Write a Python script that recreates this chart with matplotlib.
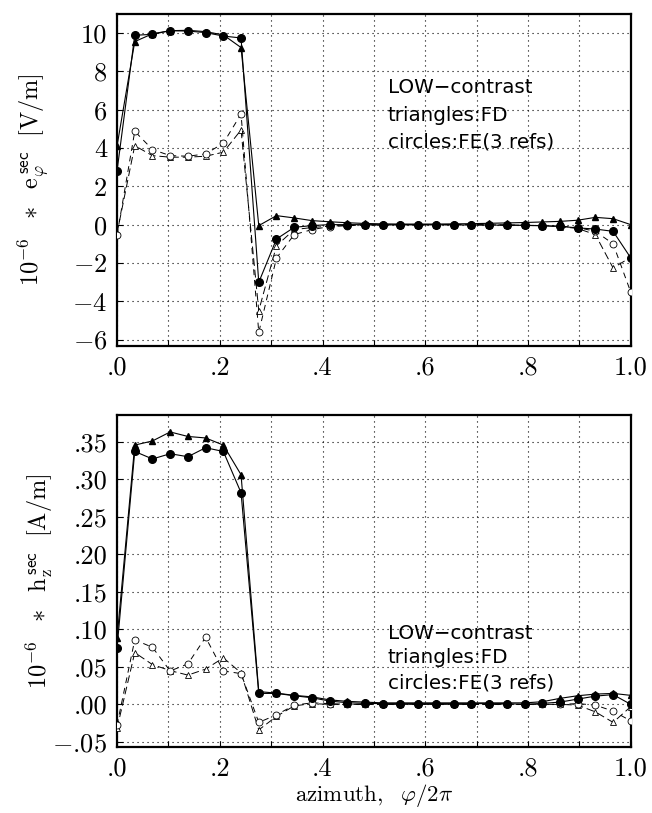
import numpy as np
import matplotlib
matplotlib.use("Agg")
import matplotlib.pyplot as plt
from matplotlib.ticker import FixedLocator, MultipleLocator

plt.rcParams["mathtext.fontset"] = "cm"

# azimuth samples, phi / 2 pi
azimuth = np.linspace(0.0, 1.0, 30)

# e_phi^sec [V/m] * 1e-6
e_tri_fd = [4.1, 9.55, 9.96, 10.12, 10.14, 10.07, 9.9, 9.24, -0.05, 0.47,
            0.35, 0.21, 0.15, 0.1, 0.06, 0.04, 0.03, 0.03, 0.03, 0.04,
            0.05, 0.07, 0.09, 0.11, 0.14, 0.17, 0.23, 0.38, 0.31, 0.0]
e_circ_fe = [2.8, 9.88, 9.93, 10.12, 10.1, 10.02, 9.84, 9.74, -3.01, -0.75,
             -0.14, -0.05, 0.0, 0.0, 0.0, -0.01, -0.01, -0.01, -0.01, -0.01,
             -0.02, -0.02, -0.03, -0.04, -0.06, -0.09, -0.17, -0.23, -0.35, -1.74]
e_tri_open = [-0.45, 4.12, 3.6, 3.52, 3.52, 3.57, 3.78, 4.94, -4.49, -1.1,
              -0.26, -0.15, -0.08, -0.04, -0.02, -0.01, 0.0, 0.0, 0.0, 0.0,
              0.0, -0.01, -0.02, -0.03, -0.05, -0.1, -0.2, -0.52, -2.26, -1.7]
e_circ_open = [-0.55, 4.87, 3.92, 3.6, 3.57, 3.69, 4.25, 5.77, -5.62, -1.74,
               -0.52, -0.26, -0.1, -0.05, -0.02, -0.01, 0.0, 0.0, 0.0, 0.0,
               0.0, -0.01, -0.02, -0.03, -0.05, -0.08, -0.15, -0.35, -1.0, -3.53]

# h_z^sec [A/m] * 1e-6
h_tri_fd = [0.088, 0.3455, 0.351, 0.363, 0.357, 0.355, 0.3455, 0.306, 0.017, 0.015,
            0.012, 0.010, 0.006, 0.004, 0.003, 0.002, 0.002, 0.002, 0.002, 0.002,
            0.002, 0.002, 0.002, 0.002, 0.0035, 0.008, 0.0115, 0.0137, 0.0146, 0.012]
h_circ_fe = [0.075, 0.337, 0.327, 0.334, 0.330, 0.342, 0.337, 0.282, 0.0146, 0.0146,
             0.0115, 0.0088, 0.0044, 0.0022, 0.0013, 0.001, 0.001, 0.001, 0.001, 0.001,
             0.001, 0.001, 0.001, 0.0, 0.0013, 0.003, 0.007, 0.011, 0.013, 0.0]
h_tri_open = [-0.032, 0.069, 0.053, 0.045, 0.039, 0.047, 0.062, 0.042, -0.034, -0.016,
              -0.002, 0.001, 0.0, 0.0, 0.0, 0.0, 0.0, 0.0, 0.0, 0.0,
              0.0, 0.0, 0.0, 0.0, 0.0, 0.0, -0.001, -0.01, -0.024, -0.003]
h_circ_open = [-0.0275, 0.086, 0.076, 0.0445, 0.054, 0.0894, 0.0445, 0.041, -0.024, -0.014,
               -0.001, 0.002, 0.001, 0.0, 0.0, 0.0, 0.0, 0.0, 0.0, 0.0,
               0.0, 0.0, 0.0, 0.0, 0.0, 0.0, 0.001, -0.001, -0.009, -0.022]

x_ticks = [0.0, 0.2, 0.4, 0.6, 0.8, 1.0]
x_ticklabels = [".0", ".2", ".4", ".6", ".8", "1.0"]
e_ticks = [-6, -4, -2, 0, 2, 4, 6, 8, 10]
e_ticklabels = ["$-$6", "$-$4", "$-$2", "0", "2", "4", "6", "8", "10"]
h_ticks = [-0.05, 0.0, 0.05, 0.10, 0.15, 0.20, 0.25, 0.30, 0.35]
h_ticklabels = ["$-$.05", ".00", ".05", ".10", ".15", ".20", ".25", ".30", ".35"]
note_lines = ["LOW\u2212contrast", "triangles:FD", "circles:FE(3 refs)"]

fig = plt.figure(figsize=(6.52, 8.13), dpi=100)
ax1 = fig.add_axes([0.1795, 0.574, 0.788, 0.409])
ax2 = fig.add_axes([0.1795, 0.081, 0.788, 0.408])


def draw_panel(ax, tri, circ, tri_o, circ_o):
    ax.plot(azimuth, tri_o, color="black", lw=0.7, dashes=(8, 4),
            marker="^", ms=5, mfc="white", mec="black", mew=0.6, zorder=3)
    ax.plot(azimuth, circ_o, color="black", lw=0.7, dashes=(6, 5),
            marker="o", ms=5, mfc="white", mec="black", mew=0.6, zorder=3)
    ax.plot(azimuth, tri, color="black", lw=0.8, marker="^", ms=4.5,
            mfc="black", mec="black", zorder=4)
    ax.plot(azimuth, circ, color="black", lw=0.8, marker="o", ms=5.5,
            mfc="black", mec="black", zorder=4)

    ax.set_xlim(0.0, 1.0)
    ax.xaxis.set_major_locator(FixedLocator(x_ticks))
    ax.set_xticklabels(x_ticklabels, fontfamily="cmr10")
    ax.xaxis.set_minor_locator(MultipleLocator(0.1))
    ax.grid(True, which="both", axis="x", color="black", lw=0.8, ls=(0, (1, 3.5)))
    ax.grid(True, which="major", axis="y", color="black", lw=0.8, ls=(0, (1, 3.5)))
    ax.tick_params(which="both", direction="in", length=4, width=0.8,
                   labelsize=19, pad=7, top=False, right=False)
    for sp in ax.spines.values():
        sp.set_linewidth(1.6)


def add_note(ax, y_vals):
    for txt, yv in zip(note_lines, y_vals):
        ax.text(0.527, yv, txt, fontsize=14.3, va="center", ha="left",
                family="DejaVu Sans", zorder=5)


draw_panel(ax1, e_tri_fd, e_circ_fe, e_tri_open, e_circ_open)
ax1.set_ylim(-6.35, 11.0)
ax1.set_yticks(e_ticks)
ax1.set_yticklabels(e_ticklabels, fontfamily="cmr10")
ax1.set_ylabel(r"$10^{-6}\ \ *\ \ \mathrm{e}_{\varphi}^{\,\mathsf{sec}}\ \ [\mathrm{V/m}]$",
               fontsize=17.5)
ax1.yaxis.set_label_coords(-0.127, 0.5)
add_note(ax1, [7.15, 5.69, 4.33])

draw_panel(ax2, h_tri_fd, h_circ_fe, h_tri_open, h_circ_open)
ax2.set_ylim(-0.057, 0.385)
ax2.set_yticks(h_ticks)
ax2.set_yticklabels(h_ticklabels, fontfamily="cmr10")
ax2.set_ylabel(r"$10^{-6}\ \ *\ \ \mathrm{h}_{\mathrm{z}}^{\,\mathsf{sec}}\ \ [\mathrm{A/m}]$",
               fontsize=17.5)
ax2.yaxis.set_label_coords(-0.12, 0.5)
ax2.set_xlabel(r"$\mathrm{azimuth,}\ \ \varphi/2\pi$", fontsize=16.5)
ax2.xaxis.set_label_coords(0.5, -0.105)
add_note(ax2, [0.095, 0.062, 0.028])

fig.savefig("out.png", dpi=100, facecolor="white")
